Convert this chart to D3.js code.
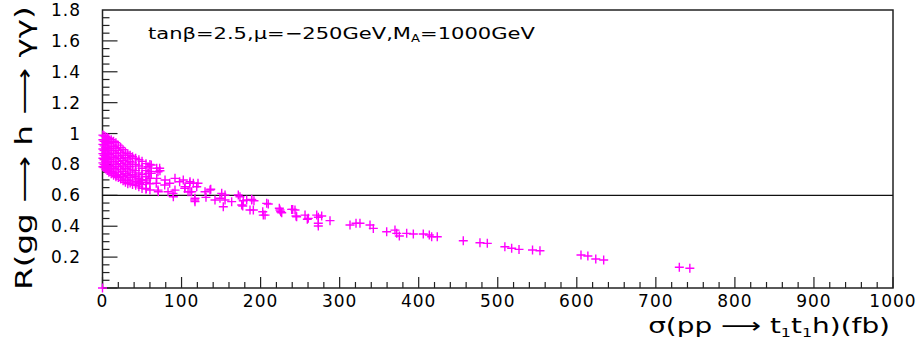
<!DOCTYPE html>
<html>
<head>
<meta charset="utf-8">
<script src="https://cdn.jsdelivr.net/npm/d3@7"></script>
<style>
  body { margin: 0; background: #fff; }
  svg text { font-family: "DejaVu Sans", sans-serif; fill: #000; }
</style>
</head>
<body>
<svg id="chart" width="922" height="341"></svg>
<script>
// x: sigma(pp -> t1 t1 h) in fb, y: R(gg -> h -> gamma gamma)
// dense band near small sigma
const clusterPoints = [
  [0.5,0.99],[0.5,0.96],[0.5,0.93],[0.5,0.90],[0.5,0.87],[0.5,0.84],[0.5,0.81],[0.5,0.785],
  [2,0.985],[2,0.95],[2,0.92],[2,0.89],[2,0.86],[2,0.83],[2,0.80],[2,0.78],
  [4,0.98],[4,0.945],[4,0.91],[4,0.88],[4,0.85],[4,0.82],[4,0.79],[4,0.77],
  [6,0.975],[6,0.94],[6,0.905],[6,0.87],[6,0.84],[6,0.81],[6,0.775],[6,0.76],
  [8,0.97],[8,0.935],[8,0.90],[8,0.865],[8,0.83],[8,0.795],[8,0.765],[8,0.75],
  [11,0.96],[11,0.925],[11,0.89],[11,0.855],[11,0.82],[11,0.785],[11,0.755],[11,0.74],
  [14,0.95],[14,0.915],[14,0.88],[14,0.845],[14,0.81],[14,0.775],[14,0.745],[14,0.73],
  [17,0.94],[17,0.905],[17,0.87],[17,0.835],[17,0.80],[17,0.765],[17,0.73],[17,0.72],
  [20,0.925],[20,0.89],[20,0.855],[20,0.82],[20,0.785],[20,0.75],[20,0.715],
  [23,0.91],[23,0.875],[23,0.84],[23,0.805],[23,0.77],[23,0.735],[23,0.705],
  [26,0.895],[26,0.86],[26,0.825],[26,0.79],[26,0.755],[26,0.72],[26,0.695],
  [29,0.88],[29,0.845],[29,0.81],[29,0.775],[29,0.74],[29,0.705],[29,0.685],
  [32,0.87],[32,0.835],[32,0.80],[32,0.765],[32,0.73],[32,0.695],[32,0.675],
  [35,0.86],[35,0.82],[35,0.785],[35,0.75],[35,0.715],[35,0.68],
  [38,0.85],[38,0.81],[38,0.77],[38,0.735],[38,0.70],[38,0.67],
  [42,0.84],[42,0.80],[42,0.76],[42,0.72],[42,0.69],[42,0.665],
  [46,0.83],[46,0.79],[46,0.745],[46,0.71],[46,0.68],[46,0.655],
  [50,0.82],[50,0.775],[50,0.735],[50,0.70],[50,0.67],[50,0.645],
  [55,0.805],[55,0.76],[55,0.72],[55,0.685],[55,0.64],
  [60,0.80],[60,0.755],[60,0.71],[60,0.675],[60,0.635]
];

// scattered points further out
const tailPoints = [
  [0,0],
  [61.7,0.796],[68.6,0.775],[72.3,0.775],[72.7,0.759],[57.6,0.785],[61.7,0.742],[70.2,0.753],
  [57.9,0.742],[55.9,0.699],[49,0.699],[68.6,0.71],[68,0.678],[78.7,0.667],[79.1,0.699],
  [85,0.678],[91.7,0.71],[97.6,0.688],[102.2,0.699],[110.3,0.678],[110.7,0.688],[120.8,0.678],
  [55.4,0.645],[47,0.678],[45.3,0.688],[41.1,0.731],[70.2,0.634],[70.6,0.623],[82.9,0.623],
  [89.2,0.613],[89.6,0.591],[91.7,0.634],[104,0.645],[104.4,0.656],[108.2,0.623],[110.7,0.623],
  [116.6,0.570],[117,0.581],[114.9,0.678],[119.2,0.656],[112.8,0.623],[117,0.559],
  [129.7,0.623],[136.9,0.639],[136,0.634],[130.9,0.587],[142.3,0.570],[148.6,0.581],
  [150.8,0.613],[155,0.602],[155,0.570],[152.8,0.526],[163.4,0.559],[171.8,0.602],
  [173.9,0.591],[178.1,0.565],[177.4,0.531],[182.4,0.570],[188.7,0.570],[188.7,0.574],
  [191.6,0.565],[176.1,0.537],[186.6,0.505],[190.8,0.505],[202.7,0.494],[205.6,0.472],
  [203.4,0.472],[207.7,0.548],[209.7,0.544],[224.5,0.505],[223.7,0.516],[225.4,0.494],
  [226.7,0.487],[239.3,0.509],[240.6,0.509],[243.5,0.505],[244.8,0.466],[245.6,0.461],
  [256.2,0.472],[259.1,0.445],[260.3,0.451],[271,0.472],[273,0.458],[277.3,0.466],
  [273,0.419],[273,0.401],[287.8,0.436],[313.1,0.408],[320.7,0.419],[325.7,0.419],
  [338.4,0.408],[342.6,0.386],[359.5,0.364],[370,0.375],[372.2,0.354],[375.5,0.337],
  [384.8,0.354],[393.2,0.350],[405.8,0.350],[413.4,0.343],[416.4,0.332],[423.5,0.332],
  [456.4,0.306],[477.5,0.293],[486.8,0.289],[509,0.267],[517.6,0.257],[526.9,0.250],
  [544,0.246],[553.4,0.241],[605.3,0.214],[614,0.207],[624,0.188],[634,0.181],
  [729.7,0.134],[743,0.128]
];

const xTicks = [0,100,200,300,400,500,600,700,800,900,1000];
const yTicks = [0.2,0.4,0.6,0.8,1,1.2,1.4,1.6,1.8];
const refLine = 0.6;

const svg = d3.select('#chart');
const padL = 102.5, padR = 893, padT = 10, padB = 288;

const x = d3.scaleLinear().domain([0, 1000]).range([padL, padR]);
const y = d3.scaleLinear().domain([0, 1.8]).range([padB, padT]);

// stretch a text horizontally so it spans the wanted width (ROOT font is wide)
function stretch(sel, width) {
  const w = sel.node().getComputedTextLength();
  return width / w;
}

// frame
svg.append('rect')
  .attr('x', padL).attr('y', padT)
  .attr('width', padR - padL).attr('height', padB - padT)
  .attr('fill', 'none').attr('stroke', '#222').attr('stroke-width', 1.5);

// x axis minor/major ticks
const xMinor = d3.range(0, 1001, 20);
svg.append('g').selectAll('line').data(xMinor).enter().append('line')
  .attr('x1', d => x(d)).attr('x2', d => x(d))
  .attr('y1', padB).attr('y2', d => padB - (d % 100 === 0 ? 11 : 6))
  .attr('stroke', '#222').attr('stroke-width', 1.2);

svg.append('g').selectAll('text').data(xTicks).enter().append('text')
  .attr('x', d => x(d)).attr('y', 307)
  .attr('text-anchor', 'middle')
  .style('font-size', '17px').style('letter-spacing', '1px')
  .text(d => d);

// y axis minor/major ticks
const yMinor = d3.range(0, 36).map(i => i * 0.05);
svg.append('g').selectAll('line').data(yMinor).enter().append('line')
  .attr('y1', d => y(d)).attr('y2', d => y(d))
  .attr('x1', padL).attr('x2', (d, i) => padL + (i % 4 === 0 ? 15 : 7))
  .attr('stroke', '#222').attr('stroke-width', 1.2);

svg.append('g').selectAll('text').data(yTicks).enter().append('text')
  .attr('x', 81).attr('y', d => y(d) + 6)
  .attr('text-anchor', 'end')
  .style('font-size', '17px').style('letter-spacing', '1px')
  .text(d => d);

// horizontal reference line
svg.append('line')
  .attr('x1', x(0)).attr('x2', x(1000))
  .attr('y1', y(refLine)).attr('y2', y(refLine))
  .attr('stroke', '#111').attr('stroke-width', 1.3);

// markers
const allPoints = clusterPoints.concat(tailPoints);
const s = 4.5;
const marks = svg.append('g').attr('stroke', '#ff00ff').attr('stroke-width', 1.4);
marks.selectAll('path').data(allPoints).enter().append('path')
  .attr('d', d => {
    const px = x(d[0]), py = y(d[1]);
    return 'M' + (px - s) + ',' + py + 'H' + (px + s) + 'M' + px + ',' + (py - s) + 'V' + (py + s);
  });

// annotation
const note = svg.append('text').style('font-size', '16px');
note.append('tspan').text('tanβ=2.5,μ=−250GeV,M');
note.append('tspan').attr('dy', 3).style('font-size', '10px').text('A');
note.append('tspan').attr('dy', -3).text('=1000GeV');
note.attr('transform', 'translate(148,39) scale(' + stretch(note, 387) + ',1)');

// x axis title
const xt = svg.append('text').style('font-size', '21px').attr('text-anchor', 'end');
xt.append('tspan').text('σ(pp ⟶ t');
xt.append('tspan').attr('dy', 4).style('font-size', '12px').text('1');
xt.append('tspan').attr('dy', -4).text('t');
xt.append('tspan').attr('dy', 4).style('font-size', '12px').text('1');
xt.append('tspan').attr('dy', -4).text('h)(fb)');
xt.attr('transform', 'translate(890,333) scale(' + stretch(xt, 242) + ',1)');

// y axis title
const yt = svg.append('text')
  .attr('text-anchor', 'start')
  .style('font-size', '23px')
  .text('R(gg ⟶ h ⟶ γγ)');
yt.attr('transform', 'translate(32,290) rotate(-90) scale(' + stretch(yt, 284) + ',1)');
</script>
</body>
</html>
